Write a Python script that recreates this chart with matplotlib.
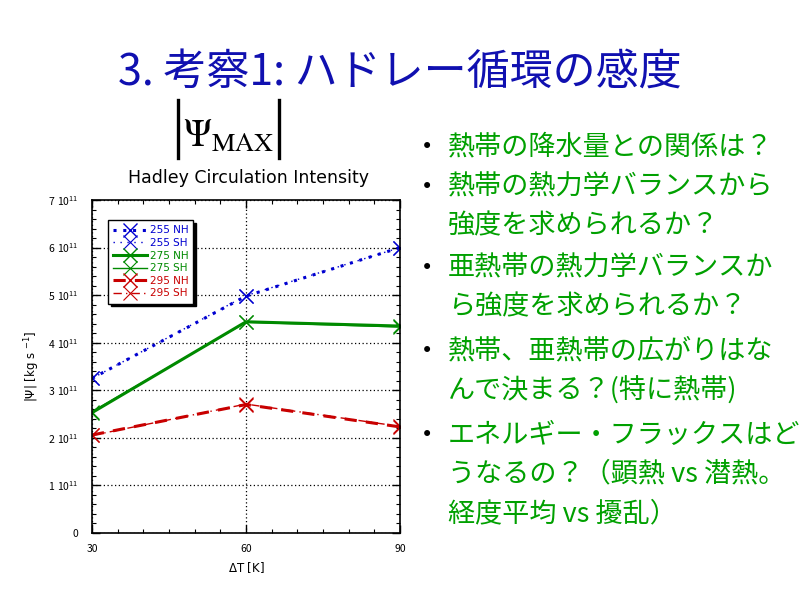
import matplotlib
matplotlib.use("Agg")
import matplotlib.pyplot as plt
from matplotlib.lines import Line2D
from matplotlib.ticker import FixedLocator, MultipleLocator, FuncFormatter

plt.rcParams['font.family'] = ['Noto Sans CJK JP', 'DejaVu Sans']

# ---- data ----
dT = [30, 60, 90]
psi_255_nh = [3.25, 4.98, 6.0]
psi_255_sh = [3.25, 4.99, 6.0]
psi_275_nh = [2.53, 4.44, 4.35]
psi_275_sh = [2.55, 4.43, 4.33]
psi_295_nh = [2.06, 2.70, 2.23]
psi_295_sh = [2.05, 2.71, 2.24]
series_labels = ["255 NH", "255 SH", "275 NH", "275 SH", "295 NH", "295 SH"]
yticks = [0, 1, 2, 3, 4, 5, 6, 7]
xticks = [30, 60, 90]

title = "3. 考察1: ハドレー循環の感度"
bullets = [
    ["熱帯の降水量との関係は？"],
    ["熱帯の熱力学バランスから", "強度を求められるか？"],
    ["亜熱帯の熱力学バランスか", "ら強度を求められるか？"],
    ["熱帯、亜熱帯の広がりはな", "んで決まる？(特に熱帯)"],
    ["エネルギー・フラックスはど", "うなるの？（顕熱 vs 潜熱。", "経度平均 vs 擾乱）"],
]

blue = "#0000d0"
green = "#008a00"
red = "#c80000"

fig = plt.figure(figsize=(8, 6), dpi=100)
ax = fig.add_axes([92/800, 1-533/600, (400-92)/800, (533-200)/600])

ms = 10
ax.plot(dT, psi_255_nh, color=blue, ls=(0, (1, 2.2)), lw=2.2, marker='x', ms=ms, mew=1.0, label=series_labels[0])
ax.plot(dT, psi_255_sh, color=blue, ls=(0, (1, 4)), lw=1.0, marker='x', ms=ms, mew=0.8, label=series_labels[1])
ax.plot(dT, psi_275_nh, color=green, ls='-', lw=2.2, marker='x', ms=ms, mew=1.0, label=series_labels[2])
ax.plot(dT, psi_275_sh, color=green, ls='-', lw=1.0, marker='x', ms=ms, mew=0.8, label=series_labels[3])
ax.plot(dT, psi_295_nh, color=red, ls=(0, (4, 3)), lw=2.2, marker='x', ms=ms, mew=1.0, label=series_labels[4])
ax.plot(dT, psi_295_sh, color=red, ls=(0, (6, 3, 1, 3)), lw=1.0, marker='x', ms=ms, mew=0.8, label=series_labels[5])

ax.set_xlim(30, 90)
ax.set_ylim(0, 7)
ax.xaxis.set_major_locator(FixedLocator(xticks))
ax.xaxis.set_minor_locator(MultipleLocator(5))
ax.yaxis.set_major_locator(FixedLocator(yticks))
ax.yaxis.set_minor_locator(MultipleLocator(0.2))

def yfmt(v, pos):
    if v == 0:
        return "0"
    return r"$\mathregular{%d\ 10^{11}}$" % int(round(v))
ax.yaxis.set_major_formatter(FuncFormatter(yfmt))
ax.tick_params(which='both', direction='in', top=True, right=True, labelsize=7.5, colors='black')
ax.tick_params(which='major', length=6, width=1)
ax.tick_params(which='minor', length=3, width=0.8)
ax.tick_params(axis='x', pad=8)
ax.tick_params(axis='y', pad=10)
ax.grid(True, which='major', color='black', ls=(0, (1, 2)), lw=0.9)
for s in ax.spines.values():
    s.set_linewidth(1.2)

ax.set_xlabel(r"$\mathregular{\Delta}$T [K]", fontsize=8.5, family='DejaVu Sans')
ax.set_ylabel(r"|$\mathregular{\Psi}$| [kg s $\mathregular{^{-1}}$]", fontsize=8.5, family='DejaVu Sans')

leg = ax.legend(loc='upper left', bbox_to_anchor=(0.035, 0.955), fontsize=7.5, frameon=True,
                fancybox=False, shadow={'color': 'black', 'alpha': 1.0}, edgecolor='black',
                handlelength=3.2, handletextpad=0.3, borderpad=0.5, labelspacing=0.25,
                prop={'family': 'DejaVu Sans', 'size': 7.5})
leg.get_frame().set_linewidth(1.0)
for txt, c in zip(leg.get_texts(), [blue, blue, green, green, red, red]):
    txt.set_color(c)

# title
fig.text(0.5, 1-74/600, title, ha='center', va='center', fontsize=31, color='#1010b0')

# psi max label with tall absolute-value bars
fig.text(229/800, 1-136/600, r"$\Psi_{\mathrm{MAX}}$", ha='center', va='center',
         fontsize=27, math_fontfamily='stix')
for bx in (178, 279):
    fig.add_artist(Line2D([bx/800, bx/800], [1-100/600, 1-158/600], color='black', lw=2.4,
                          transform=fig.transFigure))
fig.text(248/800, 1-178/600, "Hadley Circulation Intensity", ha='center', va='center',
         fontsize=12.5, family='DejaVu Sans')

# bullets
line_y = [[147], [187, 226], [268, 307], [351, 391], [435, 474, 514]]
for lines, ys in zip(bullets, line_y):
    fig.text(427/800, 1-ys[0]/600, "•", ha='center', va='center', fontsize=15, color='black',
             family='DejaVu Sans')
    for ln, y in zip(lines, ys):
        fig.text(448/800, 1-y/600, ln, ha='left', va='center', fontsize=19.5, color='#00a000')

fig.savefig("out.png", dpi=100)
